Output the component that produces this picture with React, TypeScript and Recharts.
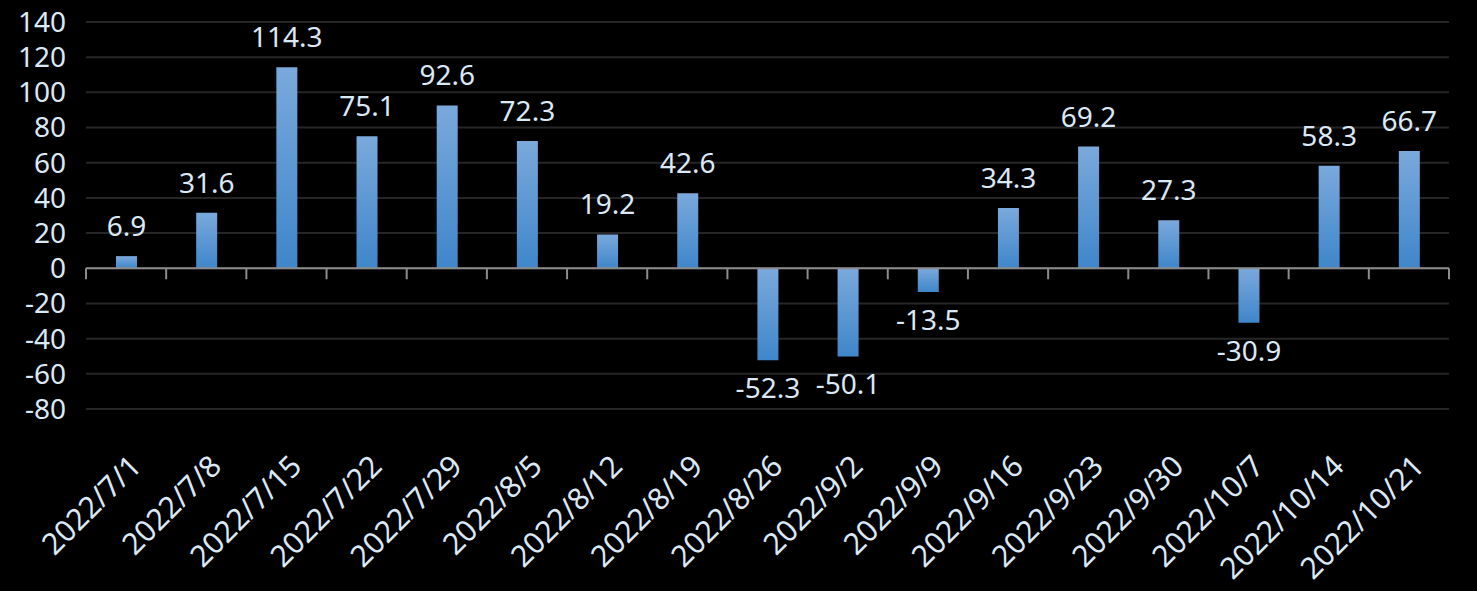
import React from 'react';
import { BarChart, Bar, XAxis, YAxis, CartesianGrid, ReferenceLine, LabelList } from 'recharts';

const categories = ['2022/7/1','2022/7/8','2022/7/15','2022/7/22','2022/7/29','2022/8/5','2022/8/12','2022/8/19','2022/8/26','2022/9/2','2022/9/9','2022/9/16','2022/9/23','2022/9/30','2022/10/7','2022/10/14','2022/10/21'];
const values = [6.9, 31.6, 114.3, 75.1, 92.6, 72.3, 19.2, 42.6, -52.3, -50.1, -13.5, 34.3, 69.2, 27.3, -30.9, 58.3, 66.7];
const yTicks = [-80, -60, -40, -20, 0, 20, 40, 60, 80, 100, 120, 140];

const data = categories.map((c, i) => ({ date: c, value: values[i] }));

const W = 1477;
const H = 591;
const M = { top: 22, right: 28, left: 0, bottom: 0 };
const Y_W = 86;
const X_H = 182;
const PLOT_W = W - M.left - M.right - Y_W;
const PLOT_H = H - M.top - M.bottom - X_H;
const BAND = PLOT_W / categories.length;
const ZERO_FROM_BOTTOM = PLOT_H * (0 - (-80)) / (140 - (-80));

const FONT = '"Noto Sans", "Open Sans", sans-serif';
const TXT = '#dbe8f5';
const FS = 28;
const XFS = 30;

const XTick = (props: any) => {
  const { x, y, payload, index } = props;
  const ax = x + 17;
  const ay = y + 59;
  const zy = y - ZERO_FROM_BOTTOM;
  const lx = x - BAND / 2;
  return (
    <g>
      <line x1={lx} y1={zy} x2={lx} y2={zy + 11} stroke="#8c8c8c" strokeWidth={2} />
      {index === categories.length - 1 && (
        <line x1={x + BAND / 2} y1={zy} x2={x + BAND / 2} y2={zy + 11} stroke="#8c8c8c" strokeWidth={2} />
      )}
      <text x={ax} y={ay} textAnchor="end" fill={TXT} fontSize={XFS} fontFamily={FONT} transform={`rotate(-45 ${ax} ${ay})`}>
        {payload.value}
      </text>
    </g>
  );
};

const ValueLabel = (props: any) => {
  const { x, y, width, height, value } = props;
  const top = Math.min(y, y + height);
  const bottom = Math.max(y, y + height);
  const cx = x + width / 2;
  const ty = value >= 0 ? top - 20 : bottom + 38;
  return (
    <text x={cx} y={ty} textAnchor="middle" fill={TXT} fontSize={FS} fontFamily={FONT}>
      {value}
    </text>
  );
};

export default function App() {
  return (
    <div style={{ position: 'fixed', left: 0, top: 0, width: W, height: H, background: '#000' }}>
      <BarChart width={W} height={H} data={data} margin={M} barSize={21}>
        <defs>
          <linearGradient id="barGrad" x1="0" y1="0" x2="0" y2="1">
            <stop offset="0%" stopColor="#7aa9dc" />
            <stop offset="100%" stopColor="#3f86ca" />
          </linearGradient>
        </defs>
        <CartesianGrid vertical={false} stroke="#262626" strokeWidth={2} />
        <XAxis
          dataKey="date"
          interval={0}
          height={X_H}
          axisLine={false}
          tickLine={false}
          tickSize={0}
          tickMargin={0}
          tick={<XTick />}
        />
        <YAxis
          width={Y_W}
          domain={[-80, 140]}
          ticks={yTicks}
          interval={0}
          axisLine={false}
          tickLine={false}
          tickSize={0}
          tickMargin={20}
          tick={{ fill: TXT, fontSize: FS, fontFamily: FONT }}
        />
        <Bar dataKey="value" fill="url(#barGrad)" isAnimationActive={false}>
          <LabelList dataKey="value" content={<ValueLabel />} />
        </Bar>
        <ReferenceLine y={0} stroke="#8c8c8c" strokeWidth={2} />
      </BarChart>
    </div>
  );
}
